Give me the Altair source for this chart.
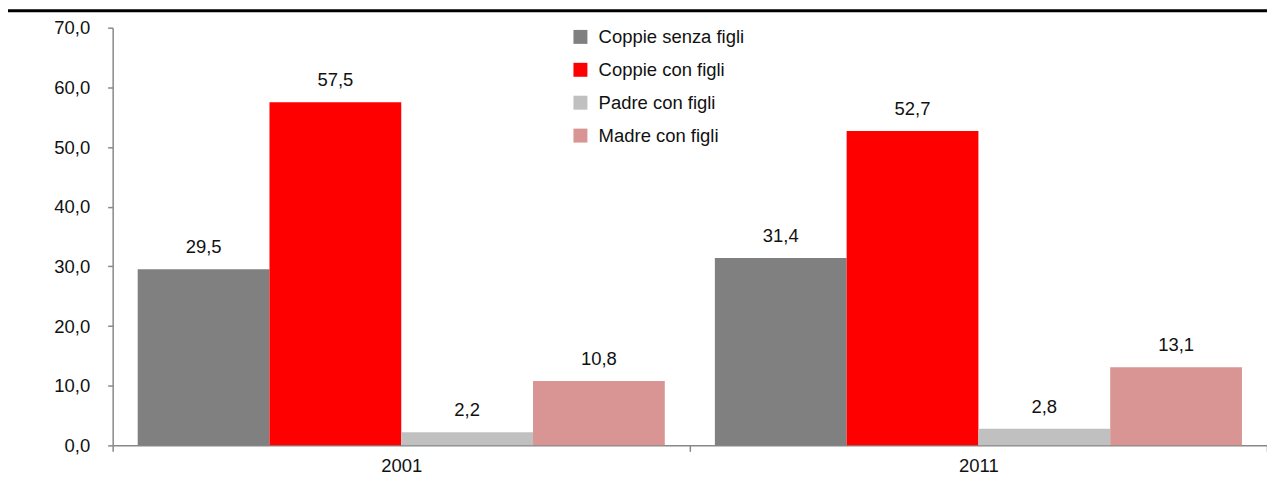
import altair as alt
import pandas as pd

years = ["2001", "2011"]
categories = ["Coppie senza figli", "Coppie con figli", "Padre con figli", "Madre con figli"]
values_2001 = [29.5, 57.5, 2.2, 10.8]
values_2011 = [31.4, 52.7, 2.8, 13.1]
colors = ["#808080", "#FF0000", "#C0C0C0", "#D99594"]
y_ticks = [0, 10, 20, 30, 40, 50, 60, 70]

rows = []
for yr, vals in zip(years, [values_2001, values_2011]):
    for i, (c, v) in enumerate(zip(categories, vals)):
        rows.append({"anno": yr, "tipo": c, "ordine": i, "valore": v})
df = pd.DataFrame(rows)

FONT = "Liberation Sans"
FS = 18.5
W, H = 1158, 419

x_enc = alt.X("anno:N", title=None,
              scale=alt.Scale(paddingInner=0, paddingOuter=0),
              axis=alt.Axis(labelAngle=0, tickBand="extent", tickSize=6,
                            tickColor="#888888", domainColor="#888888", domainWidth=1.5,
                            tickWidth=1.5, labelPadding=5, labelFontSize=FS,
                            labelFont=FONT, labelColor="#111111"))
xoff = alt.XOffset("tipo:N", sort=categories,
                   scale=alt.Scale(paddingInner=0, paddingOuter=0.19))
y_enc = alt.Y("valore:Q", title=None,
              scale=alt.Scale(domain=[0, 70], nice=False),
              axis=alt.Axis(values=y_ticks, grid=False, tickSize=5,
                            tickColor="#888888", domainColor="#888888", domainWidth=1.5,
                            tickWidth=1.5, labelPadding=18, labelFontSize=FS,
                            labelFont=FONT, labelColor="#111111",
                            labelExpr="replace(format(datum.value, '.1f'), '.', ',')"))

bars = alt.Chart(df).mark_bar().encode(
    x=x_enc, xOffset=xoff, y=y_enc,
    color=alt.Color("tipo:N", sort=categories, title=None,
                    scale=alt.Scale(domain=categories, range=colors),
                    legend=alt.Legend(orient="none", legendX=460, legendY=0,
                                      symbolType="square", symbolSize=196,
                                      symbolStrokeWidth=0, labelFontSize=FS,
                                      labelFont=FONT, labelColor="#111111",
                                      labelLimit=0,
                                      labelOffset=9, rowPadding=14, padding=0)),
)

labels = alt.Chart(df).mark_text(baseline="alphabetic", dy=-16, fontSize=FS,
                                 font=FONT, color="#111111").encode(
    x=alt.X("anno:N"), xOffset=alt.XOffset("tipo:N", sort=categories), y="valore:Q",
    text=alt.Text("lbl:N"),
).transform_calculate(lbl="replace(format(datum.valore, '.1f'), '.', ',')")

top_line = alt.Chart(pd.DataFrame({"a": [0]})).mark_rule(color="black", strokeWidth=3).encode(
    x=alt.value(-105), x2=alt.value(W + 20), y=alt.value(-17)
)

chart = alt.layer(bars, labels, top_line).properties(
    width=W, height=H,
    autosize=alt.AutoSizeParams(type="none"),
    padding={"left": 105, "top": 19, "right": 0, "bottom": 33},
).configure_view(stroke=None)

chart.save("out.html", embed_options={"renderer": "svg", "actions": False})
